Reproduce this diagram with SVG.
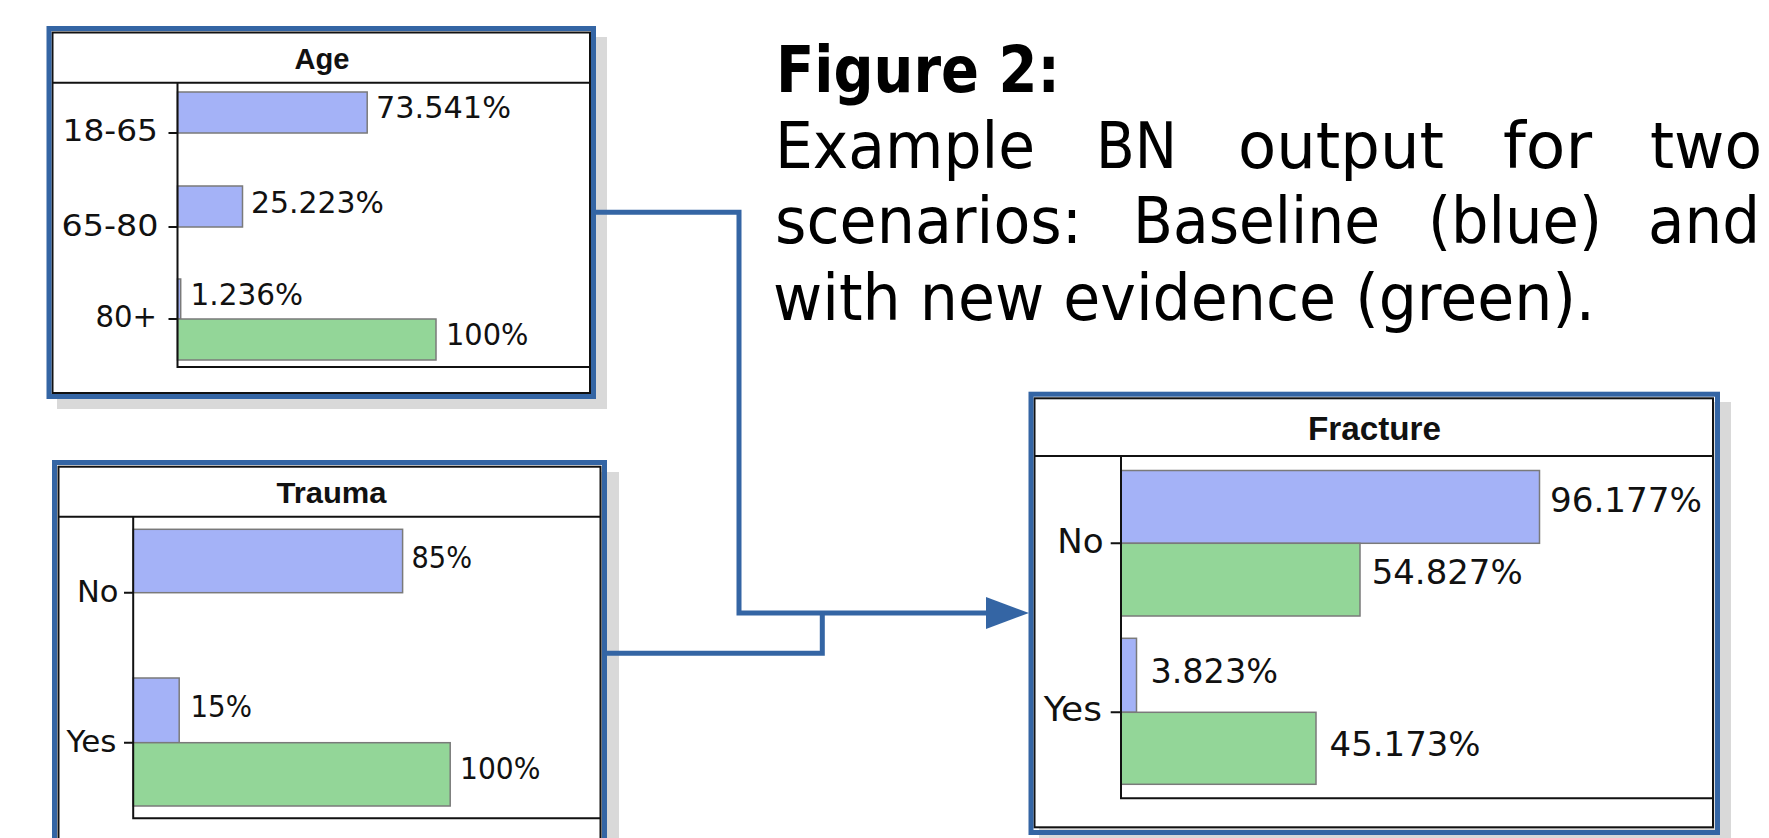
<svg xmlns="http://www.w3.org/2000/svg" width="1769" height="838" viewBox="0 0 1769 838">
<style>
.shadow{fill:#d9d9d9}
.inner{fill:#fff;stroke:#111;stroke-width:2}
.frame{fill:none;stroke:#3465a4;stroke-width:5}
.rule{stroke:#111;stroke-width:2;fill:none}
.blue{fill:#a4b2f7;stroke:#7a7a7a;stroke-width:1.5}
.green{fill:#93d698;stroke:#7a7a7a;stroke-width:1.5}
.lbl{font-family:"DejaVu Sans","Liberation Sans",sans-serif;fill:#111}
.ttl{font-family:"Liberation Sans","DejaVu Sans",sans-serif;font-weight:bold;fill:#111}
.cap{font-family:"DejaVu Sans","Liberation Sans",sans-serif;font-size:64px;fill:#000}
.capb{font-family:"DejaVu Sans","Liberation Sans",sans-serif;font-size:64px;font-weight:bold;fill:#000}
.conn{fill:none;stroke:#3465a4;stroke-width:5}
</style>

<g id="node-age">
<rect class="shadow" x="57" y="37" width="550" height="372"/>
<rect class="inner" x="52.5" y="32.5" width="537.5" height="360.5"/>
<rect class="frame" x="49" y="28.5" width="544.5" height="368"/>
<line class="rule" x1="52.5" y1="82.7" x2="590" y2="82.7"/>
<text class="ttl" x="322" y="69" font-size="29" text-anchor="middle" textLength="55" lengthAdjust="spacingAndGlyphs">Age</text>
<rect class="blue" x="177.5" y="92" width="189.7" height="41"/>
<rect class="blue" x="177.5" y="186" width="65" height="41"/>
<rect class="blue" x="177.5" y="279" width="3.2" height="40"/>
<rect class="green" x="177.5" y="319" width="258.5" height="41"/>
<path class="rule" d="M177.5 82.7 V367 H590 M168.5 133 H177.5 M168.5 227 H177.5 M168.5 319 H177.5"/>
<g class="lbl" font-size="31">
<text x="62.5" y="141" textLength="95.5" lengthAdjust="spacingAndGlyphs">18-65</text>
<text x="61.5" y="236" textLength="97" lengthAdjust="spacingAndGlyphs">65-80</text>
<text x="95.5" y="327" textLength="61.5" lengthAdjust="spacingAndGlyphs">80+</text>
<text x="376" y="118.3" textLength="135" lengthAdjust="spacingAndGlyphs">73.541%</text>
<text x="251" y="212.7" textLength="133" lengthAdjust="spacingAndGlyphs">25.223%</text>
<text x="190.5" y="305" textLength="112.5" lengthAdjust="spacingAndGlyphs">1.236%</text>
<text x="446" y="345" textLength="82.5" lengthAdjust="spacingAndGlyphs">100%</text>
</g>
</g>

<g id="node-trauma">
<rect class="shadow" x="64" y="472" width="555" height="420"/>
<rect class="inner" x="58.5" y="466.7" width="542" height="420"/>
<rect class="frame" x="54.5" y="462.5" width="550" height="430"/>
<line class="rule" x1="58.5" y1="516.7" x2="600.5" y2="516.7"/>
<text class="ttl" x="331.5" y="502.7" font-size="29" text-anchor="middle" textLength="110" lengthAdjust="spacingAndGlyphs">Trauma</text>
<rect class="blue" x="133.2" y="529.3" width="269.4" height="63.4"/>
<rect class="blue" x="133.2" y="678" width="46" height="64.7"/>
<rect class="green" x="133.2" y="742.7" width="317" height="63.3"/>
<path class="rule" d="M133.2 516.7 V818.3 H600.5 M124 592.7 H133.2 M124 742.7 H133.2"/>
<g class="lbl" font-size="30">
<text x="77" y="601.7" textLength="41.5" lengthAdjust="spacingAndGlyphs">No</text>
<text x="66.5" y="751.7" textLength="50" lengthAdjust="spacingAndGlyphs">Yes</text>
<text x="411.5" y="568.3" textLength="60.5" lengthAdjust="spacingAndGlyphs">85%</text>
<text x="190.5" y="716.7" textLength="61.5" lengthAdjust="spacingAndGlyphs">15%</text>
<text x="460" y="779.3" textLength="80.5" lengthAdjust="spacingAndGlyphs">100%</text>
</g>
</g>

<g id="node-fracture">
<rect class="shadow" x="1039" y="402" width="692" height="445"/>
<rect class="inner" x="1034.5" y="398.3" width="678.5" height="429"/>
<rect class="frame" x="1031" y="394.2" width="686.5" height="438.3"/>
<line class="rule" x1="1034.5" y1="456" x2="1713" y2="456"/>
<text class="ttl" x="1374.5" y="440" font-size="34" text-anchor="middle" textLength="133" lengthAdjust="spacingAndGlyphs">Fracture</text>
<rect class="blue" x="1121" y="470.5" width="418.5" height="72.8"/>
<rect class="green" x="1121" y="543.3" width="239" height="72.7"/>
<rect class="blue" x="1121" y="638.3" width="15.5" height="74"/>
<rect class="green" x="1121" y="712.3" width="195" height="72"/>
<path class="rule" d="M1121 456 V798.3 H1713 M1110.7 543.3 H1121 M1110.7 712.3 H1121"/>
<g class="lbl" font-size="34">
<text x="1057.3" y="552.7" textLength="46.4" lengthAdjust="spacingAndGlyphs">No</text>
<text x="1043.8" y="720.7" textLength="58.2" lengthAdjust="spacingAndGlyphs">Yes</text>
<text x="1550" y="511.7" textLength="152" lengthAdjust="spacingAndGlyphs">96.177%</text>
<text x="1371.7" y="584" textLength="151" lengthAdjust="spacingAndGlyphs">54.827%</text>
<text x="1150.4" y="683.3" textLength="127.6" lengthAdjust="spacingAndGlyphs">3.823%</text>
<text x="1329.6" y="756" textLength="151" lengthAdjust="spacingAndGlyphs">45.173%</text>
</g>
</g>

<g id="connectors">
<path class="conn" d="M594 212.3 H739 V613 H990"/>
<path class="conn" d="M605 653.3 H822.3 V613"/>
<polygon points="1029,613 986,597 986,629" fill="#3465a4"/>
</g>

<g id="caption">
<text class="capb" x="776" y="91.7" textLength="284" lengthAdjust="spacingAndGlyphs">Figure 2:</text>
<text class="cap" x="775" y="168.3" textLength="260" lengthAdjust="spacingAndGlyphs">Example</text>
<text class="cap" x="1096" y="168.3" textLength="81" lengthAdjust="spacingAndGlyphs">BN</text>
<text class="cap" x="1238" y="168.3" textLength="206" lengthAdjust="spacingAndGlyphs">output</text>
<text class="cap" x="1503" y="168.3" textLength="89" lengthAdjust="spacingAndGlyphs">for</text>
<text class="cap" x="1650" y="168.3" textLength="112" lengthAdjust="spacingAndGlyphs">two</text>
<text class="cap" x="775" y="243.3" textLength="307" lengthAdjust="spacingAndGlyphs">scenarios:</text>
<text class="cap" x="1133" y="243.3" textLength="247" lengthAdjust="spacingAndGlyphs">Baseline</text>
<text class="cap" x="1428" y="243.3" textLength="174" lengthAdjust="spacingAndGlyphs">(blue)</text>
<text class="cap" x="1648" y="243.3" textLength="112" lengthAdjust="spacingAndGlyphs">and</text>
<text class="cap" x="773" y="320" textLength="822" lengthAdjust="spacingAndGlyphs">with new evidence (green).</text>
</g>
</svg>
